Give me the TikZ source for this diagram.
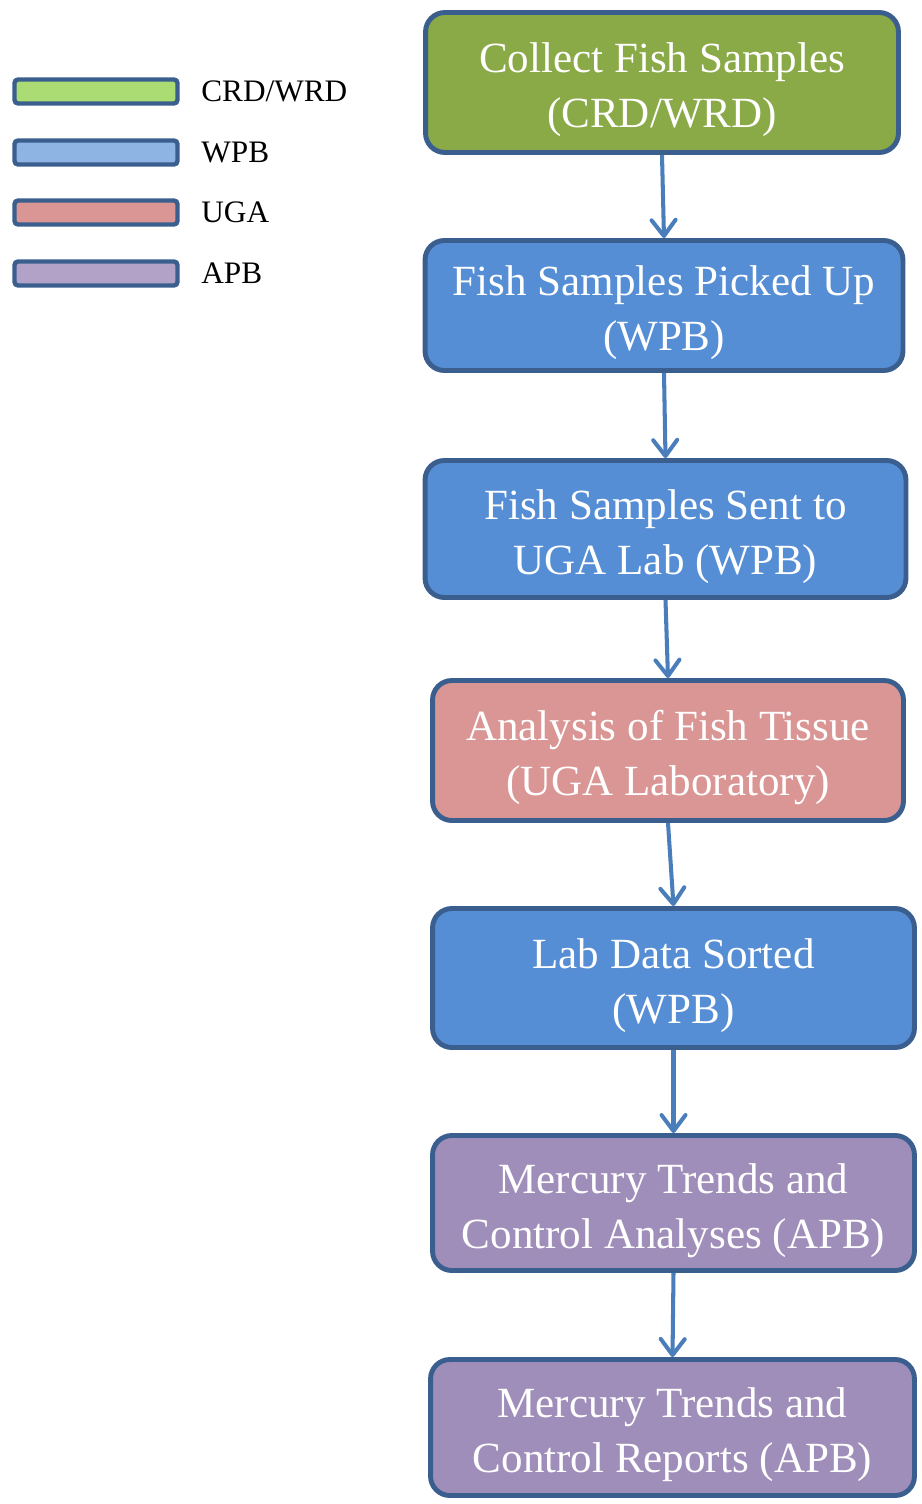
\documentclass[tikz,border=0pt]{standalone}
\usepackage{fontspec}
\setmainfont{Liberation Serif}
\usepackage{xcolor}
\definecolor{crdgreen}{RGB}{138,169,71}
\definecolor{crdlight}{RGB}{170,220,115}
\definecolor{wpbblue}{RGB}{85,142,213}
\definecolor{wpblight}{RGB}{142,180,227}
\definecolor{ugapink}{RGB}{217,150,148}
\definecolor{apbpurple}{RGB}{160,142,186}
\definecolor{apblight}{RGB}{179,162,199}
\definecolor{edgeblue}{RGB}{58,95,143}
\definecolor{arrowblue}{RGB}{74,126,187}
\usetikzlibrary{arrows.meta,positioning}
\tikzset{
  stepbox/.style={draw=edgeblue, line width=2.8pt, rounded corners=11pt, align=center,
    text=white, font=\fontsize{24.5}{31.3}\selectfont, inner sep=2pt,
    text height=51.5pt, text depth=0pt},
  keybox/.style={draw=edgeblue, line width=2.5pt, rounded corners=2pt,
    minimum width=3.26cm, minimum height=0.48cm, inner sep=0pt},
  keytext/.style={anchor=west, font=\fontsize{17.8}{21}\selectfont, inner sep=0pt},
  flow/.style={-{Straight Barb[length=0.32cm, width=0.48cm, line cap=round, line join=round]},
    line width=2.3pt, arrowblue}
}
\begin{document}
\begin{tikzpicture}[x=0.02cm, y=-0.02cm]
  \useasboundingbox (0,0) rectangle (921,1504);

  %% Legend
  \node[keybox, fill=crdlight] (kcrd) at (96,91.5) {};
  \node[keybox, fill=wpblight] (kwpb) at (96,152.5) {};
  \node[keybox, fill=ugapink] (kuga) at (96,212.5) {};
  \node[keybox, fill=apblight] (kapb) at (96,273.5) {};
  \node[keytext] (tcrd) at (201,91.5) {CRD/WRD};
  \node[keytext] (twpb) at (201,152.5) {WPB};
  \node[keytext] (tuga) at (201,212.5) {UGA};
  \node[keytext] (tapb) at (201,273.5) {APB};

  %% Process steps
  \node[stepbox, fill=crdgreen, minimum width=9.46cm, minimum height=2.8cm] (collect) at (662,82.5) {Collect Fish Samples\\(CRD/WRD)};
  \node[stepbox, fill=wpbblue, minimum width=9.56cm, minimum height=2.6cm] (pickup) at (664,305.5) {Fish Samples Picked Up\\(WPB)};
  \node[stepbox, fill=wpbblue, minimum width=9.62cm, minimum height=2.74cm] (sent) at (665.5,529) {Fish Samples Sent to\\UGA Lab (WPB)};
  \node[stepbox, fill=ugapink, minimum width=9.42cm, minimum height=2.8cm] (analysis) at (668,750.5) {Analysis of Fish Tissue\\(UGA Laboratory)};
  \node[stepbox, fill=wpbblue, minimum width=9.64cm, minimum height=2.78cm] (sorted) at (673.5,978) {Lab Data Sorted\\(WPB)};
  \node[stepbox, fill=apbpurple, minimum width=9.64cm, minimum height=2.7cm] (trends) at (673.5,1203) {Mercury Trends and\\Control Analyses (APB)};
  \node[stepbox, fill=apbpurple, minimum width=9.68cm, minimum height=2.72cm] (reports) at (672.5,1427.5) {Mercury Trends and\\Control Reports (APB)};

  %% Connectors
  \draw[flow] (collect.south) -- (pickup.north);
  \draw[flow] (pickup.south) -- (sent.north);
  \draw[flow] (sent.south) -- (analysis.north);
  \draw[flow] (analysis.south) -- (sorted.north);
  \draw[flow] (sorted.south) -- (trends.north);
  \draw[flow] (trends.south) -- (reports.north);
\end{tikzpicture}
\end{document}
